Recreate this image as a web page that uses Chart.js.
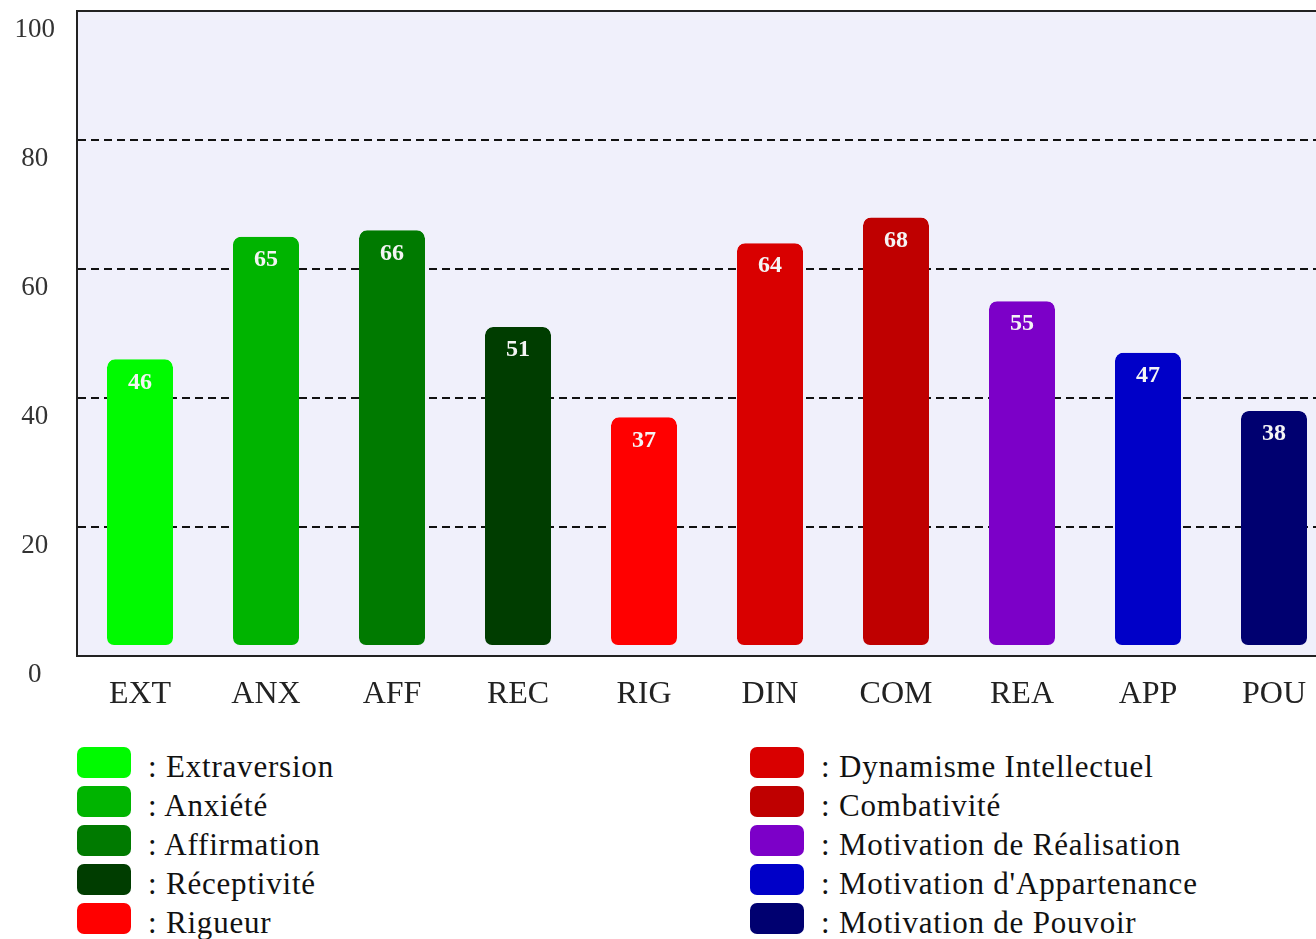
<!DOCTYPE html>
<html>
<head>
<meta charset="utf-8">
<script src="https://cdn.jsdelivr.net/npm/chart.js@4.4.0/dist/chart.umd.min.js"></script>
<style>
    html, body { margin: 0; padding: 0; background: #fff; overflow: hidden; }
    #wrap { position: relative; width: 1316px; height: 939px; overflow: hidden; }
    #chart { position: absolute; left: 0; top: 0; }
    .legend-item {
        position: absolute;
        height: 30px;
        font-family: "Liberation Serif", "Times New Roman", serif;
        font-size: 31px;
        letter-spacing: 0.8px;
        color: #111;
        white-space: nowrap;
    }
    .legend-item .swatch {
        position: absolute;
        left: 0;
        top: 0;
        width: 54px;
        height: 31px;
        border-radius: 7px;
    }
    .legend-item .label {
        position: absolute;
        left: 71px;
        top: 2px;
        line-height: 36px;
    }
</style>
</head>
<body>
<div id="wrap">
    <canvas id="chart" width="1337" height="716"></canvas>
</div>
<script>
const categories = ['EXT', 'ANX', 'AFF', 'REC', 'RIG', 'DIN', 'COM', 'REA', 'APP', 'POU'];
const scores = [46, 65, 66, 51, 37, 64, 68, 55, 47, 38];
const barColors = ['#00fa00', '#00b400', '#007a00', '#003d00', '#ff0000',
                   '#d90000', '#bf0000', '#7c00c8', '#0000c8', '#000070'];
const legendLabels = ['Extraversion', 'Anxiété', 'Affirmation', 'Réceptivité', 'Rigueur',
                      'Dynamisme Intellectuel', 'Combativité', 'Motivation de Réalisation',
                      "Motivation d'Appartenance", 'Motivation de Pouvoir'];
const yMin = 0;
const yMax = 100;
const yStep = 20;

// plot background + top frame line
const frame = {
    id: 'frame',
    beforeDraw(chart) {
        const { ctx, chartArea: a } = chart;
        ctx.save();
        ctx.fillStyle = '#f0f0fb';
        ctx.fillRect(a.left, a.top, a.right - a.left, a.bottom - a.top);
        ctx.restore();
    },
    afterDraw(chart) {
        const { ctx, chartArea: a } = chart;
        ctx.save();
        ctx.strokeStyle = '#222';
        ctx.lineWidth = 2;
        ctx.beginPath();
        ctx.moveTo(a.left - 1, a.top);
        ctx.lineTo(a.right, a.top);
        ctx.stroke();
        ctx.restore();
    }
};

// score written inside the top of each bar
const valueLabels = {
    id: 'valueLabels',
    afterDatasetsDraw(chart) {
        const { ctx } = chart;
        const meta = chart.getDatasetMeta(0);
        ctx.save();
        ctx.fillStyle = '#f4f4f4';
        ctx.font = 'bold 24px "Liberation Serif", serif';
        ctx.textAlign = 'center';
        ctx.textBaseline = 'middle';
        meta.data.forEach((bar, i) => {
            ctx.fillText(String(scores[i]), bar.x, bar.y + 23);
        });
        ctx.restore();
    }
};

new Chart(document.getElementById('chart'), {
    type: 'bar',
    data: {
        labels: categories,
        datasets: [{
            data: scores,
            backgroundColor: barColors,
            borderColor: 'rgba(0,0,0,0)',
            borderWidth: { top: 0, left: 0, right: 0, bottom: 10 },
            borderSkipped: false,
            borderRadius: { topLeft: 8, topRight: 8, bottomLeft: 17, bottomRight: 17 },
            barPercentage: 1,
            categoryPercentage: 0.524
        }]
    },
    options: {
        responsive: false,
        animation: false,
        layout: { padding: { top: 11, right: 0, left: 0, bottom: 0 } },
        plugins: {
            legend: { display: false },
            tooltip: { enabled: false }
        },
        scales: {
            x: {
                grid: { display: false, drawTicks: false },
                border: { display: true, color: '#222', width: 2 },
                ticks: {
                    color: '#222',
                    padding: 19,
                    font: { family: '"Liberation Serif", serif', size: 32 }
                },
                afterFit(scale) {
                    scale.height = 60;
                    scale.paddingLeft = 0;
                    scale.paddingRight = 0;
                }
            },
            y: {
                min: yMin,
                max: yMax,
                grid: {
                    drawTicks: false,
                    color: ctx => (ctx.tick && (ctx.tick.value === yMin || ctx.tick.value === yMax)) ? 'rgba(0,0,0,0)' : '#111',
                    lineWidth: 2
                },
                border: { display: true, color: '#222', width: 2, dash: [8, 5] },
                ticks: {
                    stepSize: yStep,
                    color: '#333',
                    padding: 22,
                    crossAlign: 'center',
                    labelOffset: 19,
                    font: { family: '"Liberation Serif", serif', size: 27 }
                },
                afterFit(scale) {
                    scale.width = 77;
                    scale.paddingTop = 0;
                    scale.paddingBottom = 0;
                }
            }
        }
    },
    plugins: [frame, valueLabels]
});

// two-column legend built from the same arrays
const wrap = document.getElementById('wrap');
const colX = [77, 750];
const rowY = [747, 786, 825, 864, 903];
legendLabels.forEach((name, i) => {
    const col = i < 5 ? 0 : 1;
    const row = i % 5;
    const item = document.createElement('div');
    item.className = 'legend-item';
    item.style.left = colX[col] + 'px';
    item.style.top = rowY[row] + 'px';
    const sw = document.createElement('span');
    sw.className = 'swatch';
    sw.style.background = barColors[i];
    const lb = document.createElement('span');
    lb.className = 'label';
    lb.textContent = ': ' + name;
    item.appendChild(sw);
    item.appendChild(lb);
    wrap.appendChild(item);
});
</script>
</body>
</html>
